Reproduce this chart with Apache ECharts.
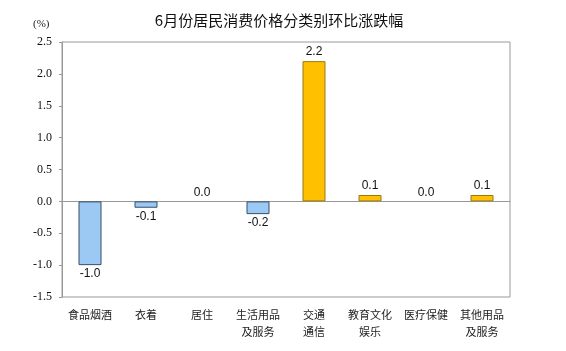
<!DOCTYPE html>
<html><head><meta charset="utf-8">
<script src="https://cdn.jsdelivr.net/npm/echarts@6/dist/echarts.min.js"></script>
<style>html,body{margin:0;padding:0;background:#fff;}#c{width:566px;height:351px;}</style>
</head><body><div id="c"></div>
<script>
const categories = ['食品烟酒','衣着','居住','生活用品\n及服务','交通\n通信','教育文化\n娱乐','医疗保健','其他用品\n及服务'];
const values = [-1.0, -0.1, 0.0, -0.2, 2.2, 0.1, 0.0, 0.1];
const yTicks = [-1.5, -1.0, -0.5, 0.0, 0.5, 1.0, 1.5, 2.0, 2.5];
const titleText = '6月份居民消费价格分类别环比涨跌幅';
const unitText = '(%)';

const chart = echarts.init(document.getElementById('c'), null, {renderer: 'canvas'});
chart.setOption({
  animation: false,
  backgroundColor: '#fff',
  title: {
    text: titleText, left: 274, top: 8, textAlign: 'center',
    textStyle: {fontFamily: 'Noto Sans CJK SC', fontSize: 15, fontWeight: 'normal', color: '#111'}
  },
  graphic: [{
    type: 'text', left: 33, top: 19,
    style: {text: unitText, font: '11px "Liberation Serif", serif', fill: '#222'}
  }],
  grid: {left: 62, right: 56, top: 42, bottom: 54, show: true, borderColor: '#999', borderWidth: 1},
  xAxis: {
    type: 'category', data: categories,
    axisLine: {show: true, onZero: true, lineStyle: {color: '#999'}},
    axisTick: {show: false},
    axisLabel: {
      interval: 0, color: '#222', fontFamily: 'Noto Sans CJK SC', fontSize: 11, lineHeight: 17,
      margin: 9
    },
    position: 'bottom'
  },
  yAxis: {
    type: 'value', min: -1.5, max: 2.5, interval: 0.5,
    axisLine: {show: true, lineStyle: {color: '#999'}},
    axisTick: {show: true, length: 3, lineStyle: {color: '#999'}},
    splitLine: {show: false},
    axisLabel: {
      color: '#111', fontFamily: '"Liberation Serif", serif', fontSize: 12, margin: 10,
      formatter: v => yTicks.includes(v) ? v.toFixed(1) : ''
    }
  },
  series: [{
    type: 'bar', barWidth: 23,
    data: values.map(v => ({
      value: v,
      itemStyle: v < 0
        ? {color: '#9CC8F4', borderColor: '#3a4f66', borderWidth: 1}
        : (v === 0 ? {color: 'rgba(0,0,0,0)', borderWidth: 0}
                   : {color: '#FFC000', borderColor: '#9a7a10', borderWidth: 1}),
      label: {
        show: true, position: v < 0 ? 'bottom' : 'top', distance: 3,
        formatter: p => p.value.toFixed(1),
        fontFamily: 'Liberation Sans', fontSize: 12, color: '#111'
      }
    }))
  }]
});
</script></body></html>
